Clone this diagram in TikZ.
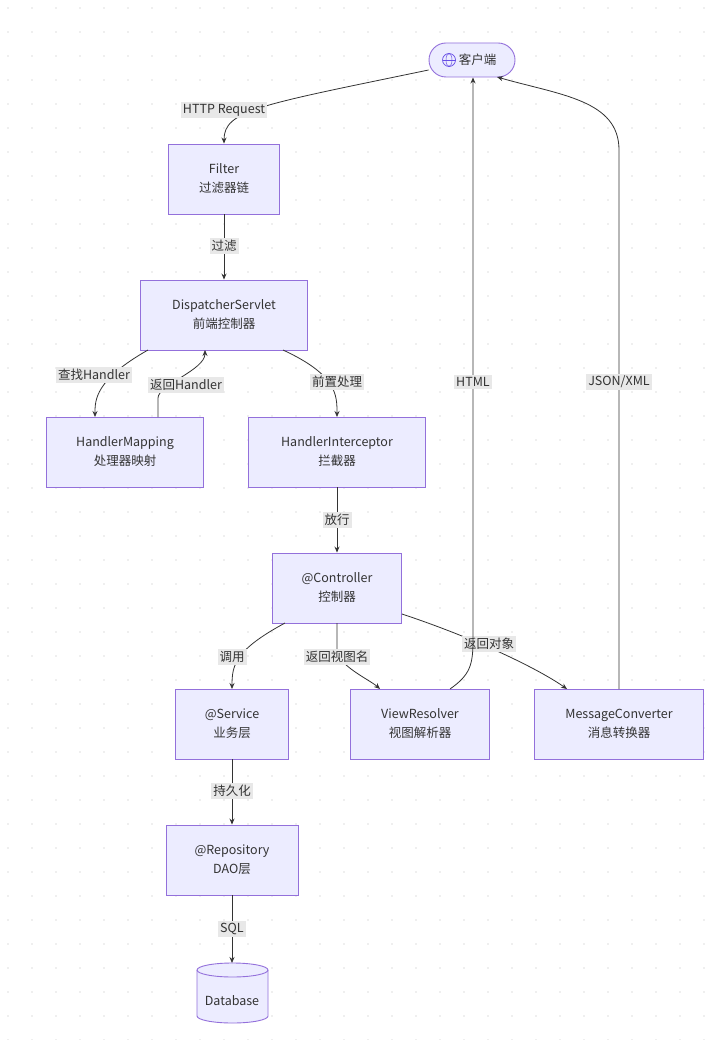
\documentclass[tikz,border=0pt]{standalone}
\usepackage{fontspec}
\setmainfont{Noto Sans CJK SC}
\usetikzlibrary{arrows.meta}
\definecolor{nfill}{HTML}{ECECFF}
\definecolor{nline}{HTML}{9370DB}
\definecolor{lbg}{HTML}{E8E8E8}
\definecolor{ink}{HTML}{333333}
\begin{document}
\begin{tikzpicture}[x=1pt,y=-1pt,
  box/.style={draw=nline,fill=nfill,line width=0.9pt,minimum height=70pt,align=center,font=\fontsize{12.5}{19}\selectfont,text=ink},
  lab/.style={fill=lbg,text=ink,font=\fontsize{12.5}{15}\selectfont,inner sep=2pt},
  ed/.style={draw=ink,line width=0.8pt,-{Stealth[length=6pt,width=5pt]}}]
\useasboundingbox (0,0) rectangle (725,1040);
\fill[white] (0,0) rectangle (725,1040);
\foreach \i in {0,...,30}{\foreach \j in {0,...,43}{\fill[gray!25] (8+24*\i,8+24*\j) circle (0.8);}}
\node[box,minimum height=34pt,minimum width=86pt,rounded corners=17pt] (client) at (472,60) {\phantom{O}\,客户端};
\begin{scope}[shift={(449,60)}]
\draw[nline!70!blue,line width=0.7pt] (0,0) circle (6.5);
\draw[nline!70!blue,line width=0.5pt] (0,-6.5) arc[start angle=-90,end angle=90,x radius=3,y radius=6.5];
\draw[nline!70!blue,line width=0.5pt] (0,-6.5) arc[start angle=-90,end angle=-270,x radius=3,y radius=6.5];
\draw[nline!70!blue,line width=0.5pt] (-6.5,0) -- (6.5,0);
\end{scope}
\node[box,minimum width=111pt] (filter) at (224,179) {Filter\\过滤器链};
\node[box,minimum width=167pt] (disp) at (224,315) {DispatcherServlet\\前端控制器};
\node[box,minimum width=157pt] (hm) at (125,452) {HandlerMapping\\处理器映射};
\node[box,minimum width=177pt] (hi) at (337,452) {HandlerInterceptor\\拦截器};
\node[box,minimum width=129pt] (ctrl) at (337,588) {@Controller\\控制器};
\node[box,minimum width=113pt] (svc) at (232,724) {@Service\\业务层};
\node[box,minimum width=139pt] (vr) at (420,724) {ViewResolver\\视图解析器};
\node[box,minimum width=169pt] (mc) at (619,724) {MessageConverter\\消息转换器};
\node[box,minimum width=132pt] (repo) at (232,860) {@Repository\\DAO层};
% database cylinder
\draw[nline,fill=nfill,line width=0.9pt] (197,970) -- (197,1016) arc[start angle=180,end angle=0,x radius=35.5,y radius=7] -- (268,970) arc[start angle=0,end angle=-180,x radius=35.5,y radius=7] -- cycle;
\draw[nline,line width=0.9pt] (197,970) arc[start angle=180,end angle=0,x radius=35.5,y radius=7];
\node[text=ink,font=\fontsize{12.5}{15}\selectfont] (db) at (232,1001) {Database};
\coordinate (dbtop) at (232,963);
% edges
\draw[ed] (client.west|-0,70) .. controls (260,105) and (224,110) .. (filter.north);
\node[lab] at (224,110) {HTTP Request};
\draw[ed] (filter) -- (disp); \node[lab] at (224,246) {过滤};
\draw[ed] (148,350) .. controls (95,380) and (95,400) .. (95,417);
\node[lab] at (94,375) {查找Handler};
\draw[ed] (158,417) -- (158,398) .. controls (158,385) and (205,370) .. (205,350);
\node[lab] at (186,385) {返回Handler};
\draw[ed] (283,350) .. controls (337,375) and (337,395) .. (337,417);
\node[lab] at (337,382) {前置处理};
\draw[ed] (hi) -- (ctrl); \node[lab] at (337,520) {放行};
\draw[ed] (285,623) .. controls (235,650) and (232,665) .. (232,689);
\node[lab] at (232,657) {调用};
\draw[ed] (337,623) -- (337,650) .. controls (337,665) and (370,680) .. (380,689);
\node[lab] at (337,657) {返回视图名};
\draw[ed] (402,614) .. controls (480,640) and (540,670) .. (567,689);
\node[lab] at (489,644) {返回对象};
\draw[ed] (450,689) .. controls (470,675) and (473,665) .. (473,640) -- (client.south-|473,0);
\node[lab] at (473,382) {HTML};
\draw[ed] (619,689) -- (619,150) .. controls (619,100) and (560,95) .. (497,77);
\node[lab] at (619,382) {JSON/XML};
\draw[ed] (svc) -- (repo); \node[lab] at (232,791) {持久化};
\draw[ed] (repo) -- (dbtop); \node[lab] at (232,929) {SQL};
\end{tikzpicture}
\end{document}
